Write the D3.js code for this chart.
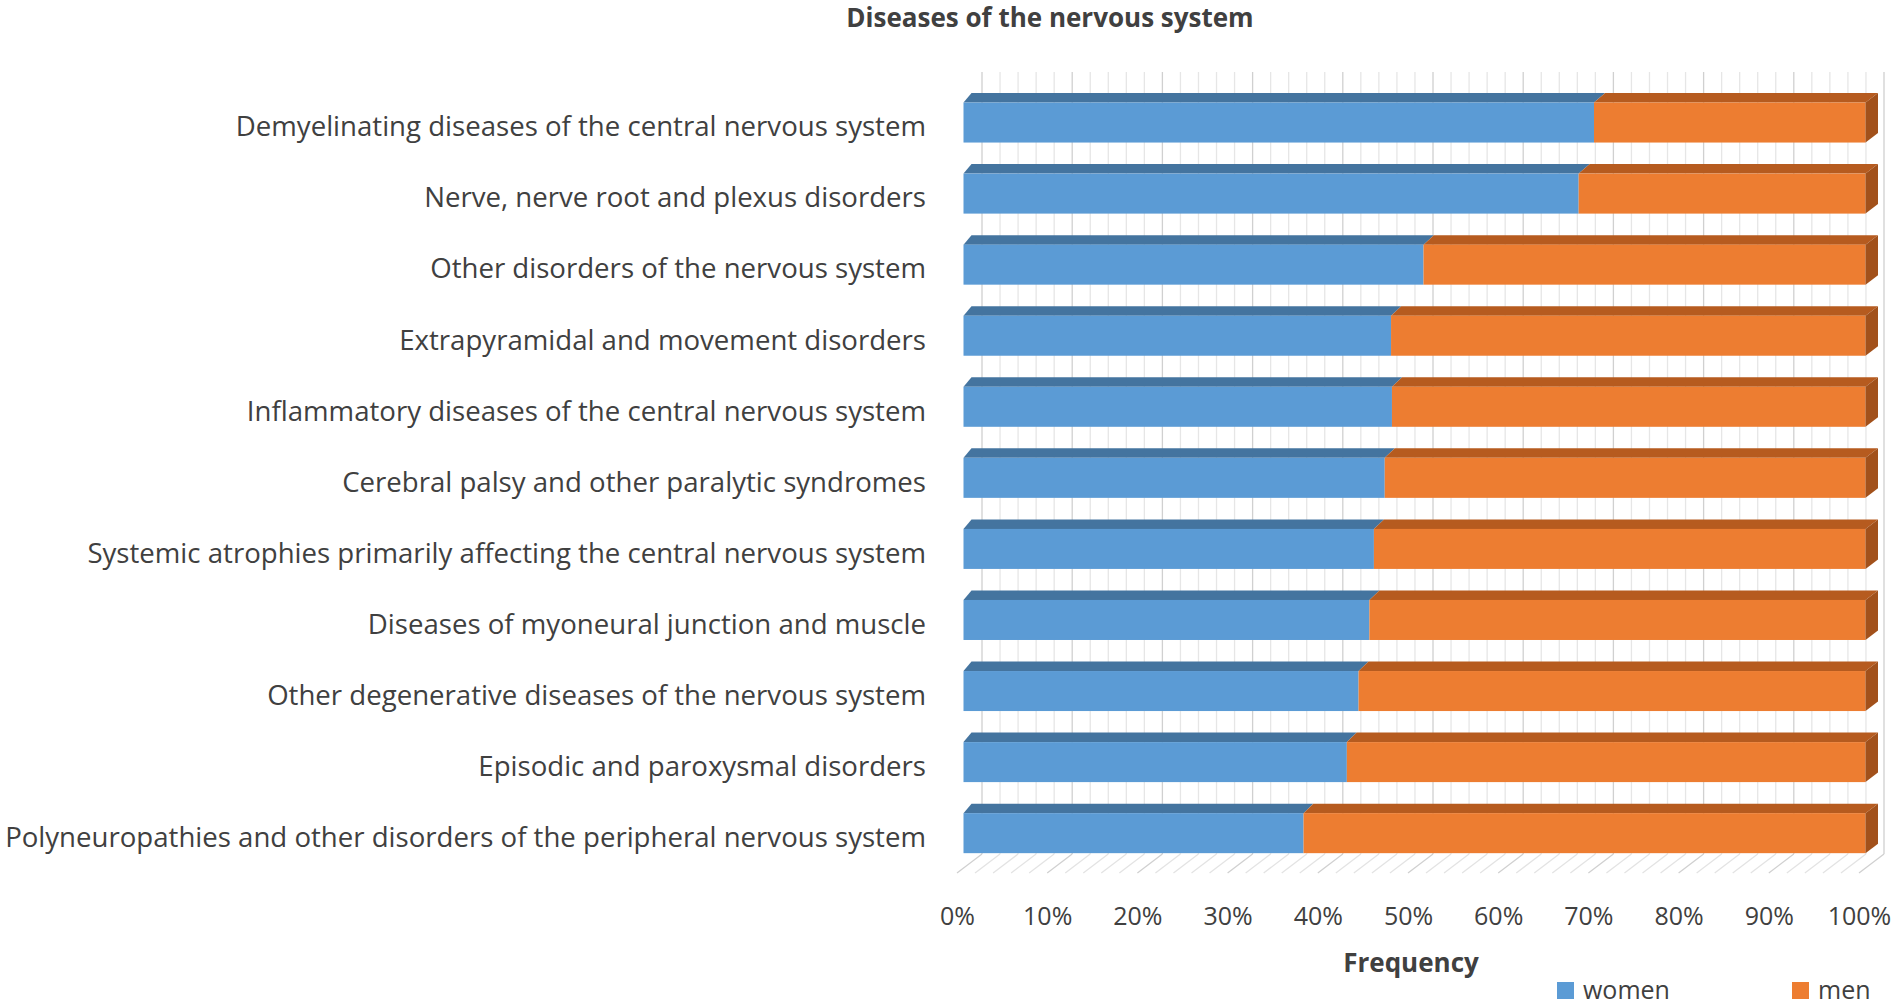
<!DOCTYPE html>
<html>
<head>
<meta charset="utf-8">
<script src="https://cdn.jsdelivr.net/npm/d3@7"></script>
<style>
  body { margin: 0; background: #fff; }
  svg { display: block; font-family: "Open Sans", sans-serif; }
</style>
</head>
<body>
<div id="chart"></div>
<script>
// values, share of women / men in percent, top row first
const categories = [
    "Demyelinating diseases of the central nervous system",
    "Nerve, nerve root and plexus disorders",
    "Other disorders of the nervous system",
    "Extrapyramidal and movement disorders",
    "Inflammatory diseases of the central nervous system",
    "Cerebral palsy and other paralytic syndromes",
    "Systemic atrophies primarily affecting the central nervous system",
    "Diseases of myoneural junction and muscle",
    "Other degenerative diseases of the nervous system",
    "Episodic and paroxysmal disorders",
    "Polyneuropathies and other disorders of the peripheral nervous system"
];
const women = [69.9, 68.2, 51.0, 47.4, 47.5, 46.7, 45.5, 45.0, 43.8, 42.5, 37.7];
const men = [30.1, 31.8, 49.0, 52.6, 52.5, 53.3, 54.5, 55.0, 56.2, 57.5, 62.3];
const seriesNames = ["women", "men"];
const tickValues = [0, 10, 20, 30, 40, 50, 60, 70, 80, 90, 100];
const tickLabels = ["0%", "10%", "20%", "30%", "40%", "50%", "60%", "70%", "80%", "90%", "100%"];

const Chart = (() => {
    const width = 1902;
    const height = 1007;
    const textColor = "#404040";
    const colors = {
        women: { front: "#5b9bd5", top: "#44749f" },
        men: { front: "#ed7d31", top: "#b65b1f", side: "#a2511b" }
    };
    // fake 3d: front plane of the bars, back wall and floor front edge
    const wall = { top: 72, bottom: 854 };
    const floorFront = 873;
    const barDepth = 9.5;

    const svg = d3.select("#chart")
        .append("svg")
        .attr("width", width)
        .attr("height", height)
        .attr("viewBox", [0, 0, width, height]);

    const x = d3.scaleLinear().domain([0, 100]).range([963.5, 1865.5]);
    const xWall = d3.scaleLinear().domain([0, 100]).range([982, 1884]);
    const xFloor = d3.scaleLinear().domain([0, 100]).range([957, 1859]);
    // back edge of a bar's top face (slight perspective)
    const xBack = v => x(v) + 8 + 0.045 * v;

    const y = d3.scaleBand()
        .domain(categories)
        .range([87, 868.7])
        .paddingInner(0.437)
        .paddingOuter(0.2186);

    function render() {
        const rows = categories.map((c, i) => ({ name: c, women: women[i], men: men[i] }));
        const stacked = d3.stack().keys(seriesNames)(rows);

        // back wall gridlines
        const grid = svg.append("g").attr("fill", "none");
        grid.selectAll("line.wall")
            .data(xWall.ticks(50))
            .join("line")
            .attr("class", "wall")
            .attr("x1", d => xWall(d))
            .attr("x2", d => xWall(d))
            .attr("y1", wall.top)
            .attr("y2", wall.bottom)
            .attr("stroke", d => d % 10 === 0 ? "#d0d0d0" : "#e6e6e6")
            .attr("stroke-width", 1.3);

        // floor gridlines
        grid.selectAll("line.floor")
            .data(xWall.ticks(50))
            .join("line")
            .attr("class", "floor")
            .attr("x1", d => xFloor(d))
            .attr("x2", d => xWall(d))
            .attr("y1", floorFront)
            .attr("y2", wall.bottom)
            .attr("stroke", d => d % 10 === 0 ? "#d0d0d0" : "#e3e3e3")
            .attr("stroke-width", 1.3);

        const bars = svg.append("g");
        const layer = bars.selectAll("g")
            .data(stacked)
            .join("g");

        layer.selectAll("polygon")
            .data(d => d.map(p => ({ key: d.key, p })))
            .join("polygon")
            .attr("fill", d => colors[d.key].top)
            .attr("points", d => {
                const top = y(d.p.data.name);
                return [
                    [x(d.p[0]), top],
                    [x(d.p[1]), top],
                    [xBack(d.p[1]), top - barDepth],
                    [xBack(d.p[0]), top - barDepth]
                ].join(" ");
            });

        layer.selectAll("rect")
            .data(d => d.map(p => ({ key: d.key, p })))
            .join("rect")
            .attr("fill", d => colors[d.key].front)
            .attr("x", d => x(d.p[0]))
            .attr("y", d => y(d.p.data.name))
            .attr("width", d => x(d.p[1]) - x(d.p[0]))
            .attr("height", y.bandwidth());

        // right side of the last segment
        const last = stacked[stacked.length - 1];
        bars.append("g")
            .selectAll("polygon")
            .data(last)
            .join("polygon")
            .attr("fill", colors[last.key].side)
            .attr("points", d => {
                const top = y(d.data.name);
                const bot = top + y.bandwidth();
                return [
                    [x(d[1]), top],
                    [xBack(d[1]), top - barDepth],
                    [xBack(d[1]), bot - barDepth],
                    [x(d[1]), bot]
                ].join(" ");
            });

        // category labels
        svg.append("g")
            .attr("text-anchor", "end")
            .attr("fill", textColor)
            .attr("font-size", 27.6)
            .selectAll("text")
            .data(categories)
            .join("text")
            .attr("x", 926)
            .attr("y", d => y(d) + y.bandwidth() / 2)
            .attr("dy", "0.5em")
            .text(d => d);

        // value axis along the floor front
        svg.append("g")
            .attr("transform", "translate(0,925)")
            .call(d3.axisBottom(xFloor)
                .tickValues(tickValues)
                .tickFormat((d, i) => tickLabels[i])
                .tickSize(0))
            .call(g => g.select(".domain").remove())
            .call(g => g.attr("font-size", 25).attr("font-family", null))
            .call(g => g.selectAll("text")
                .attr("y", 0)
                .attr("dy", null)
                .attr("fill", textColor));

        svg.append("text")
            .attr("x", 1050)
            .attr("y", 27)
            .attr("text-anchor", "middle")
            .attr("font-weight", "bold")
            .attr("font-size", 26)
            .attr("fill", textColor)
            .text("Diseases of the nervous system");

        svg.append("text")
            .attr("x", 1411)
            .attr("y", 972)
            .attr("text-anchor", "middle")
            .attr("font-weight", "bold")
            .attr("font-size", 26)
            .attr("fill", textColor)
            .text("Frequency");

        // legend
        const legendX = [1557, 1792];
        const legend = svg.append("g")
            .selectAll("g")
            .data(seriesNames)
            .join("g")
            .attr("transform", (d, i) => `translate(${legendX[i]},982)`);
        legend.append("rect")
            .attr("width", 17)
            .attr("height", 17)
            .attr("fill", d => colors[d].front);
        legend.append("text")
            .attr("x", 26)
            .attr("y", 17)
            .attr("font-size", 25)
            .attr("fill", textColor)
            .text(d => d);
    }

    return { render };
})();

Chart.render();
</script>
</body>
</html>
